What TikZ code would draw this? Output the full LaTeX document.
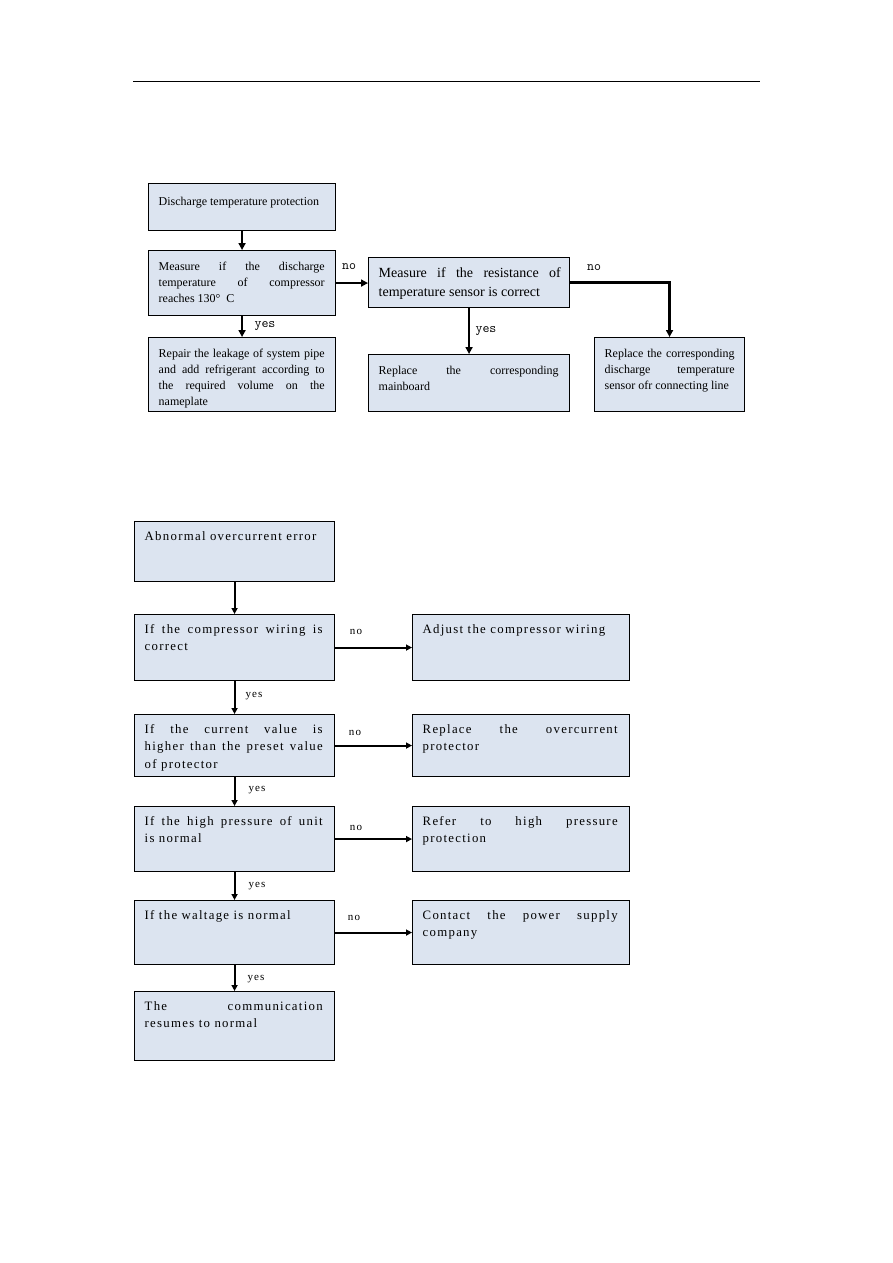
\documentclass[tikz,border=0pt]{standalone}
\usepackage{fontspec}
\setmainfont{Liberation Serif}
\newfontfamily\widefont[LetterSpace=10]{Liberation Serif}
\usetikzlibrary{arrows.meta}
\definecolor{boxfill}{RGB}{220,228,240}
\newcommand\flowbox[8]{%
  \node[box, minimum width=#4, minimum height=#5] (#1) at (#2,#3) {};
  \node[txt, #6, text width=#7] (#1t) at ([xshift=10.5,yshift=-10]#1.north west) {#8};
}
\begin{document}
\begin{tikzpicture}[x=1pt,y=-1pt,
  box/.style={draw=black, line width=1.1pt, fill=boxfill, inner sep=0pt, anchor=north west},
  txt/.style={inner sep=0pt, anchor=north west, align=justify},
  toptxt/.style={font=\fontsize{12}{16}\selectfont, yshift=-1.5pt},
  bigtxt/.style={font=\fontsize{14}{19}\selectfont},
  bottxt/.style={font=\widefont\fontsize{12.8}{17.5}\selectfont},
  toparr/.style={line width=2.2pt, -{Triangle[length=7pt,width=7pt]}},
  botarr/.style={line width=2pt, -{Triangle[length=6pt,width=6pt]}},
  toplab/.style={font=\ttfamily\fontsize{13.5}{14}\selectfont, inner sep=0pt},
  botlab/.style={font=\widefont\fontsize{11}{12}\selectfont, inner sep=0pt}]
\useasboundingbox (0,0) rectangle (893,1263);
\draw[line width=1pt] (133,81) coordinate (hl) -- (760,81) coordinate (hr);

% ---------- top flowchart ----------
\flowbox{B1}{148}{183}{187}{47}{toptxt, yshift=-2.5pt}{166pt}{Discharge temperature protection}
\flowbox{B2}{148}{250}{187}{65}{toptxt}{166pt}{Measure if the discharge\linebreak temperature of compressor\linebreak reaches 130°\ \ C}
\flowbox{B3}{148}{337}{187}{74}{toptxt}{166pt}{Repair the leakage of system pipe\linebreak and add refrigerant according to\linebreak the required volume on the\linebreak nameplate}
\flowbox{B4}{368}{257}{201}{50}{bigtxt}{182pt}{Measure if the resistance of\linebreak temperature sensor is correct}
\flowbox{B5}{368}{354}{201}{57}{toptxt}{180pt}{Replace the corresponding\linebreak mainboard}
\flowbox{B6}{594}{337}{150}{74}{toptxt}{130pt}{Replace the corresponding\linebreak discharge temperature\linebreak sensor ofr connecting line}

\draw[toparr] (B1.south) -- (B2.north);
\draw[toparr] (B2.south) -- (B3.north);
\draw[toparr] (B2.east) -- (B2.east -| B4.west);
\draw[toparr] (B4.south) -- (B5.north);
\draw[toparr] (B4.east) -| (B6.north);
\node[toplab] (l1) at (265,326) {yes};
\node[toplab] (l2) at (349,267) {no};
\node[toplab] (l3) at (486,331) {yes};
\node[toplab] (l4) at (594,268) {no};

% ---------- bottom flowchart ----------
\flowbox{C1}{134}{521}{200}{60}{bottxt}{178pt}{Abnormal overcurrent error}
\flowbox{C2}{134}{614}{200}{66}{bottxt}{178pt}{If the compressor wiring is\linebreak correct}
\flowbox{C3}{134}{714}{200}{62}{bottxt}{178pt}{If the current value is\linebreak higher than the preset value\linebreak of protector}
\flowbox{C4}{134}{806}{200}{65}{bottxt}{178pt}{If the high pressure of unit\linebreak is normal}
\flowbox{C5}{134}{900}{200}{64}{bottxt}{178pt}{If the waltage is normal}
\flowbox{C6}{134}{991}{200}{69}{bottxt}{178pt}{The communication\linebreak resumes to normal}
\flowbox{D1}{412}{614}{217}{66}{bottxt}{195pt}{Adjust the compressor wiring}
\flowbox{D2}{412}{714}{217}{62}{bottxt}{195pt}{Replace the overcurrent\linebreak protector}
\flowbox{D3}{412}{806}{217}{65}{bottxt}{195pt}{Refer to high pressure\linebreak protection}
\flowbox{D4}{412}{900}{217}{64}{bottxt}{195pt}{Contact the power supply\linebreak company}

\draw[botarr] (C1.south) -- (C2.north);
\draw[botarr] (C2.south) -- (C3.north);
\draw[botarr] (C3.south) -- (C4.north);
\draw[botarr] (C4.south) -- (C5.north);
\draw[botarr] (C5.south) -- (C6.north);
\draw[botarr] (C2.east) -- (C2.east -| D1.west);
\draw[botarr] (C3.east) -- (C3.east -| D2.west);
\draw[botarr] (C4.east) -- (C4.east -| D3.west);
\draw[botarr] (C5.east) -- (C5.east -| D4.west);
\node[botlab] (m1) at (254,696) {yes};
\node[botlab] (m2) at (257,790) {yes};
\node[botlab] (m3) at (257,886) {yes};
\node[botlab] (m4) at (256,979) {yes};
\node[botlab] (n1) at (356,632) {no};
\node[botlab] (n2) at (355,733) {no};
\node[botlab] (n3) at (356,828) {no};
\node[botlab] (n4) at (354,918) {no};
\end{tikzpicture}
\end{document}
